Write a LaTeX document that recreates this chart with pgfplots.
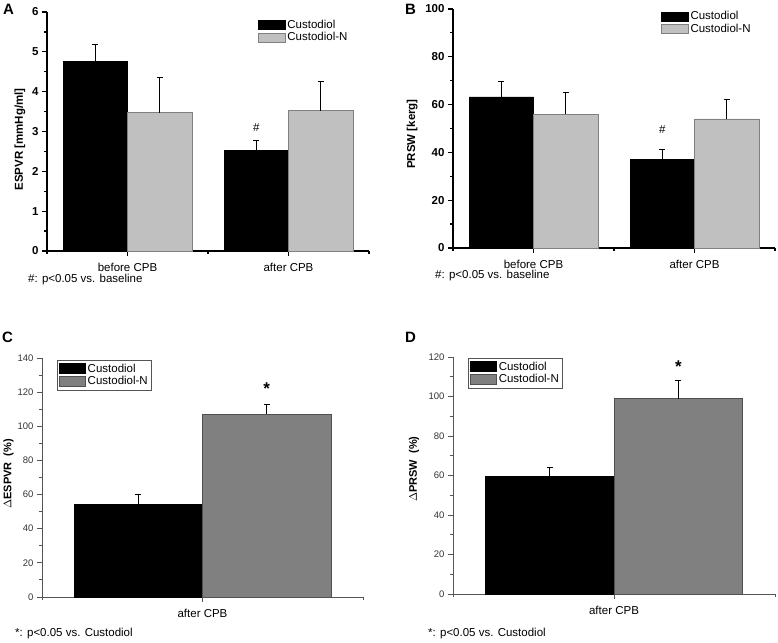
\documentclass[border=0pt]{standalone}
\usepackage{pgfplots}
\pgfplotsset{compat=1.18}
\usepackage{fontspec}
\setmainfont{Liberation Sans}
\definecolor{lgray}{HTML}{C0C0C0}
\definecolor{lgrayedge}{HTML}{808080}
\definecolor{mgray}{HTML}{808080}
\definecolor{mgrayedge}{HTML}{505050}
\definecolor{axgray}{HTML}{555555}
\newcommand\fa{\fontsize{11.5}{13}\selectfont}
\newcommand\fb{\fontsize{11}{12.5}\selectfont}
\newcommand\fs{\fontsize{9.5}{11}\selectfont}
\newcommand\fL{\fontsize{15}{17}\selectfont\bfseries}
\begin{document}
\begin{tikzpicture}[x=1pt,y=1pt]
\useasboundingbox (0,0) rectangle (778,642);
\pgfplotsset{
  base/.style={
    scale only axis, anchor=south west,
    axis x line*=bottom, axis y line*=left,
    tick align=outside,
    ybar, bar width=0.4,
    major tick length=5pt, minor tick length=3pt,
    ymin=0, clip=false,
    /pgf/number format/assume math mode=true,
    xticklabel style={font=\fa, yshift=-4pt},
    legend cell align=left,
    every axis plot/.append style={line width=0.8pt},
  },
  err/.style={error bars/.cd, y dir=plus, y explicit,
    error bar style={line width=1pt,black},
    error mark=-,
    error mark options={rotate=90, line width=1pt, mark size=3pt, black}},
  top/.style={
    base,
    width=322pt, height=239pt,
    xmin=0.5, xmax=2.5,
    xtick={1,2}, xticklabels={before CPB, after CPB},
    minor xtick={0.5,1.5,2.5},
    axis line style={line width=1.2pt},
    every tick/.style={line width=1.2pt, black},
    yticklabel style={font=\fa\bfseries},
    ylabel style={font=\fa\bfseries},
    legend style={draw=none, fill=none, anchor=north west, inner sep=0pt,
      row sep=0pt, font=\fa, nodes={inner sep=1.5pt}},
    legend image code/.code={\draw[##1] (0pt,-4.5pt) rectangle (27pt,4.5pt);},
  },
  bot/.style={
    base,
    xmin=-0.5, xmax=0.5,
    xtick={0}, xticklabels={after CPB},
    minor xtick={-0.5,0.5},
    axis line style={line width=0.9pt, axgray},
    every tick/.style={line width=0.9pt, axgray},
    yticklabel style={font=\fs, text=black!80},
    ylabel style={font=\fb\bfseries},
    legend style={draw=axgray, line width=0.7pt, fill=white, anchor=north west, inner sep=2pt,
      row sep=0pt, font=\fa, nodes={inner sep=1.5pt}},
    legend image code/.code={\draw[##1] (0pt,-5pt) rectangle (26pt,5pt);},
  },
}
% ---------------- A ----------------
\begin{axis}[top, at={(47pt,391pt)},
  ymax=6, ytick={0,1,...,6}, minor y tick num=1,
  ylabel={ESPVR [mmHg/ml]},
  ylabel style={at={(axis description cs:-0.084,0.467)}, anchor=center},
  legend style={at={(axis description cs:0.655,0.975)}}]
\addplot[fill=black, draw=black, bar shift=-0.2, err] coordinates {(1,4.76) +- (0,0.43) (2,2.52) +- (0,0.25)};
\addplot[fill=lgray, draw=lgrayedge, bar shift=0.2, err] coordinates {(1,3.47) +- (0,0.89) (2,3.52) +- (0,0.73)};
\legend{Custodiol, Custodiol-N}
\node[anchor=base, font=\fa] at (axis cs:1.8,2.99) {\#};
\end{axis}
% ---------------- B ----------------
\begin{axis}[top, at={(453pt,394pt)},
  ymax=100, ytick={0,20,...,100}, minor y tick num=1,
  ylabel={PRSW [kerg]},
  ylabel style={at={(axis description cs:-0.127,0.477)}, anchor=center},
  legend style={at={(axis description cs:0.646,0.996)}}]
\addplot[fill=black, draw=black, bar shift=-0.2, err] coordinates {(1,63.2) +- (0,6.6) (2,36.9) +- (0,4.2)};
\addplot[fill=lgray, draw=lgrayedge, bar shift=0.2, err] coordinates {(1,55.9) +- (0,9.1) (2,54.0) +- (0,8.2)};
\legend{Custodiol, Custodiol-N}
\node[anchor=base, font=\fa] at (axis cs:1.8,48.1) {\#};
\end{axis}
% ---------------- C ----------------
\begin{axis}[bot, at={(42pt,45pt)}, width=321pt, height=239pt,
  ymax=140, ytick={0,20,...,140}, minor y tick num=1,
  ylabel={{\mdseries$\Delta$}ESPVR\ \ (\%)},
  ylabel style={at={(axis description cs:-0.104,0.515)}, anchor=center},
  legend style={at={(axis description cs:0.047,0.992)}}]
\addplot[fill=black, draw=black, bar shift=-0.2, err] coordinates {(0,54.4) +- (0,5.5)};
\addplot[fill=mgray, draw=mgrayedge, bar shift=0.2, err] coordinates {(0,107.1) +- (0,5.5)};
\legend{Custodiol, Custodiol-N}
\node[anchor=base, font=\fontsize{17}{19}\selectfont\bfseries] at (axis cs:0.2,118.5) {*};
\end{axis}
% ---------------- D ----------------
\begin{axis}[bot, at={(453pt,48pt)}, width=322pt, height=237pt,
  ymax=120, ytick={0,20,...,120}, minor y tick num=1,
  ylabel={{\mdseries$\Delta$}PRSW\ \ (\%)},
  ylabel style={at={(axis description cs:-0.121,0.527)}, anchor=center},
  legend style={at={(axis description cs:0.047,0.996)}}]
\addplot[fill=black, draw=black, bar shift=-0.2, err] coordinates {(0,59.4) +- (0,4.7)};
\addplot[fill=mgray, draw=mgrayedge, bar shift=0.2, err] coordinates {(0,98.9) +- (0,9.0)};
\legend{Custodiol, Custodiol-N}
\node[anchor=base, font=\fontsize{17}{19}\selectfont\bfseries] at (axis cs:0.2,112.0) {*};
\end{axis}
% ---------------- letters and notes ----------------
\node[anchor=base west, inner sep=0pt, font=\fL] at (3,627) {A};
\node[anchor=base west, inner sep=0pt, font=\fL] at (405,627) {B};
\node[anchor=base west, inner sep=0pt, font=\fL] at (2,299) {C};
\node[anchor=base west, inner sep=0pt, font=\fL] at (405,299) {D};
\node[anchor=base west, inner sep=0pt, font=\fa] at (28,359) {\#: p<0.05 vs. baseline};
\node[anchor=base west, inner sep=0pt, font=\fa] at (435,363) {\#: p<0.05 vs. baseline};
\node[anchor=base west, inner sep=0pt, font=\fa] at (15,6) {*: p<0.05 vs. Custodiol};
\node[anchor=base west, inner sep=0pt, font=\fa] at (428,6) {*: p<0.05 vs. Custodiol};
\end{tikzpicture}
\end{document}
